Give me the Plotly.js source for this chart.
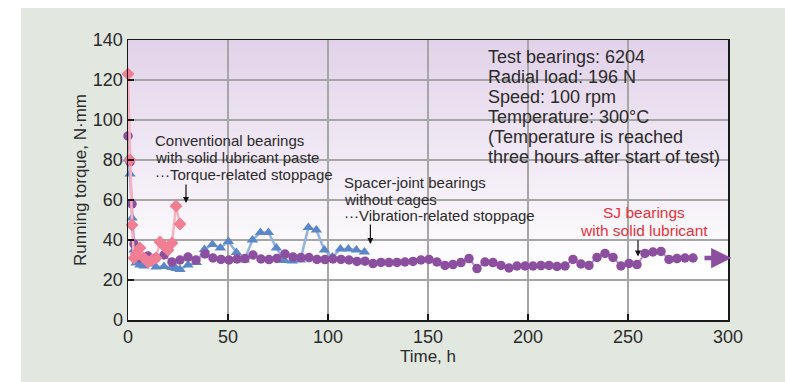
<!DOCTYPE html>
<html>
<head>
<meta charset="utf-8">
<script src="https://cdn.plot.ly/plotly-3.0.1.min.js"></script>
<style>html,body{margin:0;padding:0;background:#fff;}#chart{width:785px;height:382px;}</style>
</head>
<body>
<div id="chart"></div>
<script>
// SJ bearings with solid lubricant (purple circles)
const sjX = [0,1,2,3,4,6,10,14,18,22,26,30,34,
  38.5,42.5,46.5,50.5,54.5,58.5,62.5,66.5,70.5,74.5,
  78.5,82.5,86.5,90.5,94.5,98.5,102.5,106.5,110.5,114.5,
  118.5,122.5,126.5,130.5,134.5,138.5,142.5,146.5,150.5,154.5,
  158.5,162.5,166.5,170.5,174.5,178.5,182.5,186.5,190.5,194.5,
  198.5,202.5,206.5,210.5,214.5,218.5,222.5,226.5,230.5,234.5,
  238.5,242.5,246.5,250.5,254.5,258.5,262.5,266.5,270.5,274.5,
  278.5,282.5];
const sjY = [92,79,58,38,33.5,31,32,31,32.5,29,30,31.5,30,
  33,31,30.3,30,30.5,30.7,32.5,30.5,30.2,30.8,
  33,31.5,31.2,31.2,30.3,30.2,30.5,30.3,30,29.3,
  29.4,28.2,28.8,28.7,28.8,29,29.3,30,30.3,29,
  27.3,27.7,28.7,30.7,25.7,29,28.7,27.3,26,27,
  27,27,27.2,27.3,26.8,27,30.3,28,27.3,31.3,
  33.3,31.3,27,28.3,27.7,33.3,34,34.3,30.3,30.7,
  31,31];

// Spacer-joint bearings without cages (blue triangles)
const spX = [0,1,2,3,4,6,8,11,14,18,22,24,26,30,34.2,38.2,42.2,46.2,50.2,54.2,58.2,62.2,66.2,70.2,74.2,78.2,82.2,86.2,90.2,94.2,98.2,102.2,106.2,110.2,114.2,118.2];
const spY = [80.5,73,51,35,28.5,27.5,27,28,26.5,26.8,26.2,25.8,25.3,27.5,28.8,35.3,37.8,36,39.3,33.8,30,40,43.8,43.8,36,29.8,29.5,30,46.3,45,35,31.5,35.5,35.5,35,34];

// Conventional bearings with solid lubricant paste (pink diamonds)
const cvX = [0,1,2,3,4,6,8,10,12,14,16,18,20,22,24,26];
const cvY = [123,80,47.5,31,33,36,31,29,30,31,39,37,35,38.5,57,48];

const xTicks = [0,50,100,150,200,250,300];
const yTicks = [0,20,40,60,80,100,120,140];

const infoLines = ["Test bearings: 6204","Radial load: 196 N","Speed: 100 rpm","Temperature: 300°C","(Temperature is reached","three hours after start of test)"];
const convLines = ["Conventional bearings","with solid lubricant paste","\u00b7\u00b7\u00b7Torque-related stoppage"];
const spacerLines = ["Spacer-joint bearings","without cages","\u00b7\u00b7\u00b7Vibration-related stoppage"];
const sjLines = ["SJ bearings","with solid lubricant"];

const FONT = "Liberation Sans, Arial, Helvetica, sans-serif";
const TXT = "#2b2b2b";

const traces = [
  {x: spX, y: spY, type: "scatter", mode: "lines+markers", cliponaxis: false,
   line: {color: "#93b2df", width: 2.5},
   marker: {symbol: "triangle-up", size: 10, color: "#5b86c7"}},
  {x: sjX, y: sjY, type: "scatter", mode: "lines+markers", cliponaxis: false,
   line: {color: "#b58fc6", width: 2},
   marker: {symbol: "circle", size: 9.5, color: "#8c4fa0"}},
  {x: cvX, y: cvY, type: "scatter", mode: "lines+markers", cliponaxis: false,
   line: {color: "#f7b3bf", width: 2.5},
   marker: {symbol: "diamond", size: 10, color: "#f07f94"}}
];

// background: panel + vertical gradient inside plot area
const shapes = [
  {type: "rect", xref: "paper", yref: "paper", x0: -0.1783, x1: 1.1, y0: -0.23, y1: 1.1143,
   fillcolor: "#e2e7e0", line: {width: 0}, layer: "below"},
  {type: "rect", xref: "paper", yref: "paper", x0: 0, x1: 1, y0: 0, y1: 1,
   fillcolor: "#ffffff", line: {width: 0}, layer: "below"}
];
const gradTop = [226, 210, 233];
for (let i = 0; i < 60; i++) {
  const y1 = 140 - i * 2, y0 = y1 - 2;
  const t = Math.min(1, (i * 2 + 1) / 115);
  const c = gradTop.map(v => Math.round(v + (255 - v) * t));
  shapes.push({type: "rect", xref: "paper", yref: "y", x0: 0, x1: 1, y0: y0, y1: y1,
    fillcolor: "rgb(" + c.join(",") + ")", line: {width: 0}, layer: "below"});
}

const annotations = [];
infoLines.forEach((s, i) => annotations.push({x: 179, y: 131.5 - 10 * i, xref: "x", yref: "y", text: s,
  showarrow: false, xanchor: "left", yanchor: "middle", font: {family: FONT, size: 18, color: TXT}}));
convLines.forEach((s, i) => annotations.push({x: 12.5, y: 89.6 - 8.4 * i, xref: "x", yref: "y", text: s,
  showarrow: false, xanchor: "left", yanchor: "middle", font: {family: FONT, size: 15, color: TXT}}));
spacerLines.forEach((s, i) => annotations.push({x: 107.2, y: 68.9 - 8.4 * i, xref: "x", yref: "y", text: s,
  showarrow: false, xanchor: "left", yanchor: "middle", font: {family: FONT, size: 15, color: TXT}}));
sjLines.forEach((s, i) => annotations.push({x: 258.2, y: 53.8 - 8.8 * i, xref: "x", yref: "y", text: s,
  showarrow: false, xanchor: "center", yanchor: "middle", font: {family: FONT, size: 15.5, color: "#e8323c"}}));
// arrows
const arrow = (x, yTip, yTail) => ({x: x, y: yTip, ax: x, ay: yTail, xref: "x", yref: "y", axref: "x", ayref: "y",
  text: "", showarrow: true, arrowhead: 2, arrowsize: 1, arrowwidth: 1.2, arrowcolor: "#111"});
annotations.push(arrow(29, 58.5, 68.5));
annotations.push(arrow(121.2, 38, 48.5));
annotations.push(arrow(255, 31.7, 40.6));
annotations.push({x: 301.7, y: 31, ax: 287.5, ay: 31, xref: "x", yref: "y", axref: "x", ayref: "y",
  text: "", showarrow: true, arrowhead: 2, arrowsize: 0.9, arrowwidth: 4.5, arrowcolor: "#8c4fa0"});

const axisCommon = {
  showgrid: true, gridcolor: "#a6a6a6", gridwidth: 1.2, zeroline: false,
  showline: true, linecolor: "#1a1a1a", linewidth: 1.5, mirror: true,
  ticks: "inside", ticklen: 6, tickcolor: "#1a1a1a", tickwidth: 1.2,
  tickfont: {family: FONT, size: 18, color: TXT}
};

const layout = {
  width: 785, height: 382,
  margin: {l: 128, r: 57, t: 40, b: 62},
  paper_bgcolor: "#ffffff", plot_bgcolor: "rgba(0,0,0,0)",
  showlegend: false,
  xaxis: Object.assign({}, axisCommon, {range: [0, 300], tickvals: xTicks,
    title: {text: "Time, h", font: {family: FONT, size: 17, color: TXT}, standoff: 1}}),
  yaxis: Object.assign({}, axisCommon, {range: [0, 140], tickvals: yTicks,
    title: {text: "Running torque, N\u00b7mm", font: {family: FONT, size: 17, color: TXT}, standoff: 2}}),
  shapes: shapes,
  annotations: annotations
};

Plotly.newPlot("chart", traces, layout, {displayModeBar: false, staticPlot: true});
</script>
</body>
</html>
